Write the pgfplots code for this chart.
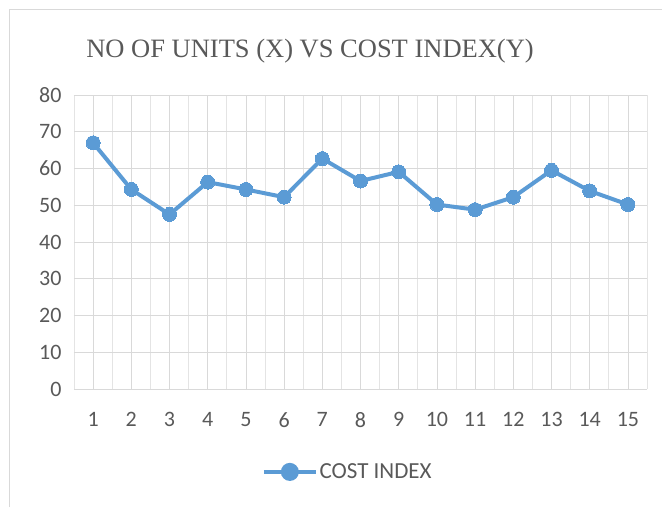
\documentclass[border=0pt]{standalone}
\usepackage{pgfplots}
\pgfplotsset{compat=1.18}
\usepackage{fontspec}
\setmainfont{Liberation Serif}
\newfontfamily\calibri{Carlito}

\definecolor{excelblue}{HTML}{5B9BD5}
\definecolor{gridgray}{HTML}{D9D9D9}
\definecolor{textgray}{HTML}{595959}

\begin{document}
\begin{tikzpicture}
% frame of the picture, in pt (1pt ~ 1px of the reference)
\useasboundingbox (-74pt,-118pt) rectangle (588pt,389pt);
\draw[gridgray, line width=1pt] (-64pt,-118pt) -- (-64pt,379pt) -- (588pt,379pt);
\begin{axis}[
  at={(0pt,0pt)}, anchor=south west,
  scale only axis, width=573pt, height=294pt,
  xmin=0.5, xmax=15.5, ymin=0, ymax=80,
  xtick={1,...,15}, ytick={0,10,...,80},
  minor xtick={0.5,1.5,...,15.5},
  grid=both,
  major grid style={gridgray, line width=0.8pt},
  minor grid style={gridgray!70, line width=0.8pt},
  axis line style={draw=none},
  axis x line*=bottom, axis y line*=left,
  x axis line style={draw=gridgray, line width=1pt},
  tick style={draw=none},
  /pgf/number format/assume math mode=true,
  ticklabel style={font=\calibri\fontsize{22}{24}\selectfont, text=textgray},
  xticklabel style={yshift=-20pt},
  yticklabel style={xshift=-9pt},
  title={NO OF UNITS (X) VS COST INDEX(Y)},
  title style={font=\fontsize{26.5}{28}\selectfont, text=textgray,
    at={(axis description cs:0.412,1.13)}, anchor=center},
  legend style={at={(axis description cs:0.478,-0.282)}, anchor=center,
    draw=none, fill=none, font=\calibri\fontsize{23}{25}\selectfont,
    text=textgray},
  legend image code/.code={
    \draw[excelblue, line width=3.5pt] (0pt,0pt) -- (52pt,0pt);
    \fill[excelblue] (26pt,0pt) circle (7pt);},
]
\addplot[excelblue, line width=4pt, mark=*, mark size=7pt,
  mark options={fill=excelblue, draw=excelblue, line width=0pt}]
  coordinates {
  (1,67.0) (2,54.3) (3,47.5) (4,56.3) (5,54.3) (6,52.2) (7,62.7) (8,56.6)
  (9,59.1) (10,50.2) (11,48.8) (12,52.2) (13,59.5) (14,53.9) (15,50.2)};
\addlegendentry{COST INDEX}
\end{axis}
\end{tikzpicture}
\end{document}
